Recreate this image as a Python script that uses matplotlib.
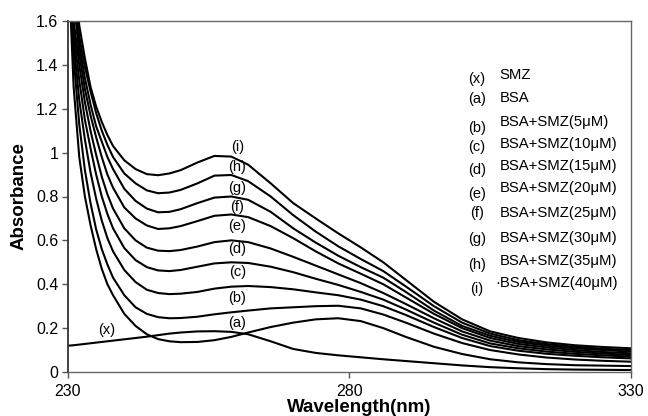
import numpy as np
import matplotlib
matplotlib.use("Agg")
import matplotlib.pyplot as plt

plt.rcParams['font.family'] = ['Liberation Sans', 'DejaVu Sans']

wl = [230, 231, 232, 233, 234, 235, 236, 237, 238, 240, 242, 244, 246, 248, 250,
      253, 256, 259, 262, 266, 270, 274, 278, 282, 286, 290, 295, 300, 305, 310,
      315, 320, 325, 330]

# SMZ alone
smz = [0.120, 0.122, 0.125, 0.128, 0.131, 0.134, 0.137, 0.140, 0.143, 0.149, 0.155, 0.161, 0.168, 0.175, 0.180,
       0.185, 0.186, 0.183, 0.172, 0.140, 0.105, 0.087, 0.076, 0.067, 0.058, 0.050, 0.040, 0.030, 0.022, 0.017,
       0.013, 0.011, 0.010, 0.009]

# BSA alone (a) and BSA + SMZ 5..40 uM (b..i)
bsa_a = [1.90, 1.30, 0.98, 0.80, 0.67, 0.56, 0.47, 0.40, 0.35, 0.265, 0.21, 0.172, 0.150, 0.140, 0.136,
         0.137, 0.145, 0.160, 0.180, 0.205, 0.225, 0.240, 0.245, 0.232, 0.200, 0.160, 0.115, 0.082, 0.058, 0.044,
         0.036, 0.031, 0.029, 0.027]
bsa_b = [2.00, 1.43, 1.13, 0.92, 0.77, 0.65, 0.56, 0.49, 0.43, 0.35, 0.295, 0.265, 0.250, 0.245, 0.246,
         0.252, 0.263, 0.272, 0.280, 0.290, 0.295, 0.300, 0.302, 0.290, 0.262, 0.225, 0.175, 0.132, 0.100, 0.080,
         0.066, 0.057, 0.051, 0.047]
bsa_c = [2.10, 1.50, 1.24, 1.06, 0.91, 0.79, 0.69, 0.61, 0.55, 0.465, 0.41, 0.375, 0.360, 0.355, 0.357,
         0.365, 0.380, 0.389, 0.392, 0.387, 0.377, 0.363, 0.350, 0.330, 0.300, 0.260, 0.205, 0.155, 0.118, 0.097,
         0.083, 0.074, 0.067, 0.062]
bsa_d = [2.10, 1.55, 1.33, 1.15, 1.02, 0.90, 0.80, 0.72, 0.655, 0.565, 0.51, 0.478, 0.463, 0.460, 0.465,
         0.480, 0.495, 0.500, 0.497, 0.480, 0.455, 0.425, 0.397, 0.365, 0.330, 0.285, 0.225, 0.170, 0.130, 0.108,
         0.093, 0.083, 0.076, 0.070]
bsa_e = [2.10, 1.60, 1.40, 1.23, 1.10, 0.99, 0.89, 0.81, 0.745, 0.655, 0.60, 0.567, 0.553, 0.551, 0.556,
         0.572, 0.592, 0.600, 0.592, 0.563, 0.525, 0.485, 0.445, 0.405, 0.360, 0.310, 0.245, 0.185, 0.143, 0.118,
         0.103, 0.092, 0.084, 0.077]
bsa_f = [2.20, 1.70, 1.45, 1.29, 1.17, 1.07, 0.98, 0.90, 0.84, 0.75, 0.70, 0.668, 0.652, 0.655, 0.665,
         0.688, 0.712, 0.718, 0.706, 0.665, 0.610, 0.550, 0.495, 0.448, 0.400, 0.340, 0.265, 0.200, 0.155, 0.128,
         0.112, 0.100, 0.091, 0.085]
bsa_g = [2.20, 1.75, 1.49, 1.34, 1.22, 1.12, 1.05, 0.98, 0.925, 0.835, 0.78, 0.745, 0.728, 0.730, 0.742,
         0.770, 0.795, 0.800, 0.785, 0.730, 0.655, 0.590, 0.530, 0.478, 0.430, 0.365, 0.280, 0.210, 0.165, 0.137,
         0.120, 0.108, 0.100, 0.093]
bsa_h = [2.30, 1.80, 1.53, 1.39, 1.28, 1.18, 1.10, 1.035, 0.98, 0.905, 0.86, 0.828, 0.815, 0.818, 0.830,
         0.860, 0.895, 0.898, 0.870, 0.800, 0.715, 0.640, 0.573, 0.515, 0.460, 0.390, 0.300, 0.225, 0.175, 0.145,
         0.127, 0.115, 0.106, 0.100]
bsa_i = [2.30, 1.85, 1.58, 1.43, 1.30, 1.21, 1.14, 1.08, 1.03, 0.965, 0.925, 0.902, 0.897, 0.905, 0.920,
         0.955, 0.985, 0.982, 0.945, 0.860, 0.770, 0.700, 0.632, 0.568, 0.500, 0.420, 0.320, 0.240, 0.185, 0.155,
         0.135, 0.122, 0.114, 0.108]

series = [smz, bsa_a, bsa_b, bsa_c, bsa_d, bsa_e, bsa_f, bsa_g, bsa_h, bsa_i]

curve_tags = ['(a)', '(b)', '(c)', '(d)', '(e)', '(f)', '(g)', '(h)', '(i)']
curve_tag_y = [0.222, 0.336, 0.457, 0.559, 0.665, 0.753, 0.840, 0.936, 1.027]

legend_tags = ['(x)', '(a)', '(b)', '(c)', '(d)', '(e)', '(f)', '(g)', '(h)', '(i)']
legend_text = ['SMZ', 'BSA', 'BSA+SMZ(5μM)', 'BSA+SMZ(10μM)', 'BSA+SMZ(15μM)',
               'BSA+SMZ(20μM)', 'BSA+SMZ(25μM)', 'BSA+SMZ(30μM)', 'BSA+SMZ(35μM)',
               '·BSA+SMZ(40μM)']

fig = plt.figure(figsize=(6.48, 4.16), dpi=100)
ax = fig.add_axes([68 / 648, 44 / 416, 563 / 648, 351 / 416])

for s in series:
    ax.plot(wl, s, color='black', lw=1.5)

ax.set_xlim(230, 330)
ax.set_ylim(0, 1.6)
ax.set_xticks([230, 280, 330])
ax.set_yticks([0, 0.2, 0.4, 0.6, 0.8, 1.0, 1.2, 1.4, 1.6])
ax.set_yticklabels(['0', '0.2', '0.4', '0.6', '0.8', '1', '1.2', '1.4', '1.6'])
ax.tick_params(axis='both', direction='out', length=4, width=1, color='#555555',
               labelsize=11.5, pad=3)
ax.tick_params(axis='x', pad=5)

for side in ['top', 'right', 'bottom']:
    ax.spines[side].set_color('#666666')
    ax.spines[side].set_linewidth(1.0)
ax.spines['left'].set_color('#333333')
ax.spines['left'].set_linewidth(1.3)

ax.set_ylabel('Absorbance', fontsize=13.5, fontweight='bold', va='center')
ax.yaxis.set_label_coords(-0.087, 0.5)
ax.set_xlabel('Wavelength(nm)', fontsize=13.5, fontweight='bold', va='center')
ax.xaxis.set_label_coords(0.518, -0.1)

# curve tags
for tag, y in zip(curve_tags, curve_tag_y):
    ax.text(260.1, y, tag, fontsize=10.5, ha='center', va='center')
ax.text(236.9, 0.19, '(x)', fontsize=10.5, ha='center', va='center')

# legend written as text
tag_y = [0.835, 0.778, 0.694, 0.642, 0.575, 0.506, 0.452, 0.378, 0.305, 0.236]
txt_y = [0.846, 0.780, 0.711, 0.650, 0.588, 0.523, 0.452, 0.383, 0.316, 0.253]
for tag, txt, ty, sy in zip(legend_tags, legend_text, tag_y, txt_y):
    ax.text(0.726, ty, tag, transform=ax.transAxes, fontsize=10.5, ha='center', va='center')
    x0 = 0.758 if txt.startswith('·') else 0.766
    ax.text(x0, sy, txt, transform=ax.transAxes, fontsize=10.7, ha='left', va='center')

fig.savefig('out.png', dpi=100)
